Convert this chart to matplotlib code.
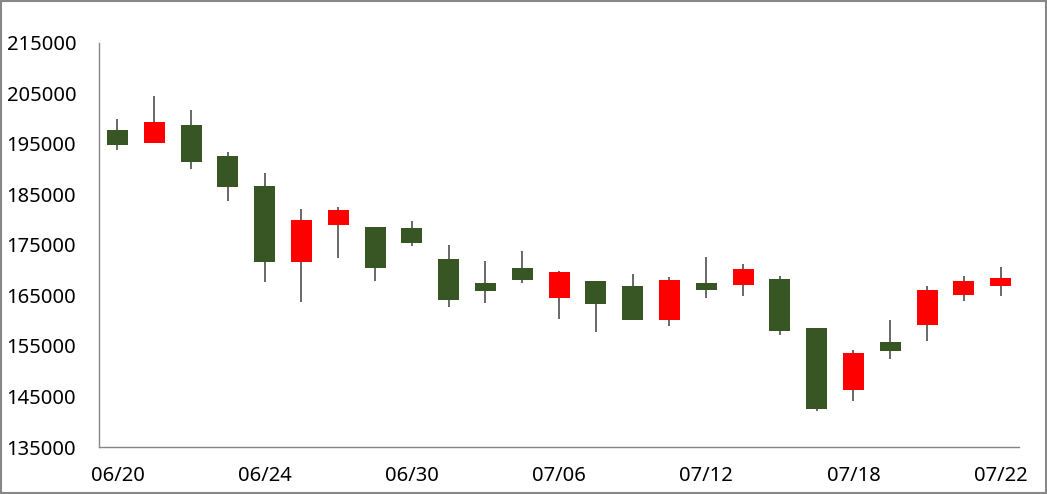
import numpy as np
import matplotlib.pyplot as plt
from matplotlib.patches import Rectangle

# daily prices
dates = ["06/20", "06/21", "06/22", "06/23", "06/24", "06/27", "06/28", "06/29",
         "06/30", "07/01", "07/04", "07/05", "07/06", "07/07", "07/08", "07/11",
         "07/12", "07/13", "07/14", "07/15", "07/18", "07/19", "07/20", "07/21",
         "07/22"]
open_ = [197700, 195200, 198700, 192600, 186600, 171600, 178900, 178500,
         178300, 172300, 167400, 170500, 164600, 167950, 166800, 160100,
         167400, 167000, 168300, 158600, 146200, 155800, 159100, 165000,
         166800]
high = [200000, 204400, 201800, 193500, 189300, 182200, 182600, 178500,
        179800, 175000, 171900, 173800, 169900, 167950, 169300, 168700,
        172650, 171300, 168900, 158600, 154250, 160200, 166950, 168950,
        170700]
low = [193800, 195200, 190000, 183700, 167750, 163800, 172400, 167800,
       174800, 162700, 163600, 167400, 160300, 157700, 160100, 158900,
       164600, 164800, 157100, 142200, 144200, 152500, 155900, 163850,
       164800]
close = [194750, 199300, 191400, 186500, 171600, 180000, 182000, 170400,
         175400, 164200, 165800, 168000, 169700, 163400, 160100, 168100,
         166000, 170300, 157900, 142600, 153650, 154100, 166150, 167950,
         168550]

up_col = "#FF0000"
down_col = "#375623"
wick_col = "#404040"

plt.rcParams['font.family'] = ['Noto Sans', 'DejaVu Sans']

fig = plt.figure(figsize=(10.47, 4.94), dpi=100)
ax = fig.add_axes([0.0946, 0.0951, 0.8787, 0.818])

x = np.arange(len(dates))
w = 0.57
for i in x:
    o, h, l, c = open_[i], high[i], low[i], close[i]
    ax.vlines(i, l, h, color=wick_col, linewidth=1.1, zorder=1)
    col = up_col if c >= o else down_col
    ax.add_patch(Rectangle((i - w / 2, min(o, c)), w, abs(c - o),
                           facecolor=col, edgecolor='none', zorder=2))

ax.set_xlim(-0.5, len(dates) - 0.5)
ax.set_ylim(135000, 215000)
ax.set_yticks(np.arange(135000, 215001, 10000))
ax.set_xticks(x[::4])
ax.set_xticklabels([dates[i] for i in x[::4]])

for s in ['top', 'right']:
    ax.spines[s].set_visible(False)
for s in ['left', 'bottom']:
    ax.spines[s].set_color('#868686')
    ax.spines[s].set_linewidth(1)
ax.tick_params(axis='both', length=0, labelsize=14.5, colors='black')
ax.tick_params(axis='y', pad=16.5)
ax.tick_params(axis='x', pad=14)

fig.patches.append(Rectangle((0.001, 0.002), 0.998, 0.996, transform=fig.transFigure,
                             fill=False, edgecolor='#878787', linewidth=1.5))

fig.savefig("out.png", dpi=100)
